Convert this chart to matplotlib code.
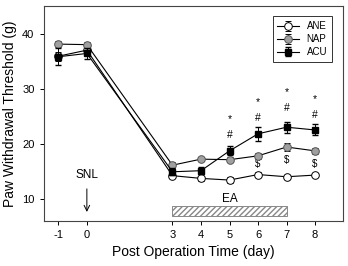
import matplotlib
matplotlib.use("Agg")
import matplotlib.pyplot as plt

plt.rcParams['font.family'] = ['Liberation Sans', 'DejaVu Sans']
plt.rcParams['axes.unicode_minus'] = False

days = [-1, 0, 3, 4, 5, 6, 7, 8]
ane = [35.9, 37.0, 14.2, 13.7, 13.4, 14.4, 14.0, 14.3]
nap = [38.1, 38.0, 16.1, 17.2, 17.1, 17.8, 19.4, 18.7]
acu = [35.8, 36.4, 14.9, 15.1, 18.7, 21.8, 23.0, 22.5]
ane_err = [0.8, 0.8, 0.4, 0.4, 0.5, 0.4, 0.4, 0.3]
nap_err = [0.5, 0.5, 0.5, 0.4, 0.5, 0.6, 0.7, 0.6]
acu_err = [1.5, 1.0, 0.6, 0.6, 0.8, 1.3, 1.0, 1.0]

# significance marks
star_days = [5, 6, 7, 8]
star_y = [24.4, 27.6, 29.3, 28.1]
hash_y = [21.6, 24.7, 26.4, 25.3]
dollar_days = [6, 7, 8]
dollar_y = [16.3, 17.0, 16.3]

fig, ax = plt.subplots(figsize=(3.48, 2.66), dpi=100)
fig.subplots_adjust(left=0.125, right=0.985, top=0.977, bottom=0.17)

ax.errorbar(days, ane, yerr=ane_err, color='black', lw=0.8, marker='o', ms=5.5,
            mfc='white', mec='black', mew=0.7, capsize=2, elinewidth=0.7, label='ANE', zorder=3)
ax.errorbar(days, nap, yerr=nap_err, color='black', lw=0.8, marker='o', ms=5.5,
            mfc='#a0a0a0', mec='#555555', mew=0.7, capsize=2, elinewidth=0.7, label='NAP', zorder=3)
ax.errorbar(days, acu, yerr=acu_err, color='black', lw=0.8, marker='s', ms=5,
            mfc='black', mec='black', capsize=2, elinewidth=0.7, label='ACU', zorder=4)

for d, y in zip(star_days, star_y):
    ax.text(d, y, '*', ha='center', va='center', fontsize=7.5)
for d, y in zip(star_days, hash_y):
    ax.text(d, y, '#', ha='center', va='center', fontsize=7.5)
for d, y in zip(dollar_days, dollar_y):
    ax.text(d, y, '$', ha='center', va='center', fontsize=7)

# EA bar
ax.bar(5, 1.8, width=4, bottom=6.8, color='white', edgecolor='#888888',
       hatch='//////', lw=0.7, zorder=2)
ax.text(5, 9.9, 'EA', ha='center', va='center', fontsize=8.5)

# SNL arrow
ax.text(0, 14.4, 'SNL', ha='center', va='center', fontsize=8.5)
ax.annotate('', xy=(0, 7.1), xytext=(0, 12.3),
            arrowprops=dict(arrowstyle='->', color='black', lw=0.7))

ax.set_xlim(-1.52, 8.97)
ax.set_ylim(6, 45)
ax.set_xticks(days)
ax.set_yticks([10, 20, 30, 40])
ax.tick_params(labelsize=8, length=3, width=0.7)
ax.set_xlabel('Post Operation Time (day)', fontsize=10)
ax.set_ylabel('Paw Withdrawal Threshold (g)', fontsize=10)
for s in ax.spines.values():
    s.set_linewidth(0.8)
    s.set_color('#444444')

leg = ax.legend(loc='upper right', fontsize=7, frameon=True, fancybox=False,
                edgecolor='black', handlelength=2.2, borderpad=0.5, labelspacing=0.3,
                bbox_to_anchor=(0.98, 0.975))
leg.get_frame().set_linewidth(0.7)

fig.savefig('out.png', dpi=100)
